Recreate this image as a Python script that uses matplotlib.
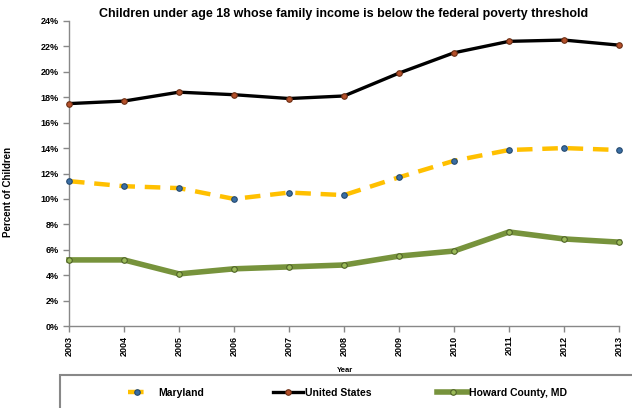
import matplotlib
matplotlib.use("Agg")
import matplotlib.pyplot as plt
from matplotlib.ticker import FuncFormatter, MultipleLocator
from matplotlib.patches import Rectangle

years = [2003, 2004, 2005, 2006, 2007, 2008, 2009, 2010, 2011, 2012, 2013]
maryland = [11.4, 11.0, 10.85, 10.0, 10.5, 10.3, 11.7, 13.0, 13.85, 14.0, 13.85]
united_states = [17.5, 17.7, 18.4, 18.2, 17.9, 18.1, 19.9, 21.5, 22.4, 22.5, 22.1]
howard = [5.2, 5.2, 4.1, 4.5, 4.65, 4.8, 5.5, 5.9, 7.4, 6.85, 6.6]

title = "Children under age 18 whose family income is below the federal poverty threshold"

plt.rcParams['font.family'] = ['Liberation Sans', 'DejaVu Sans']
plt.rcParams['font.weight'] = 'bold'

W, H = 632, 408
fig = plt.figure(figsize=(W/100, H/100), dpi=100)
ax = fig.add_axes([69/W, 1-326/H, (619-69)/W, (326-21)/H])

l_md, = ax.plot(years, maryland, color='#FFC000', lw=3.2, dashes=(3.5, 2.2),
                marker='o', ms=4, mfc='#3A6EA5', mec='#254A70', mew=0.8, label='Maryland', zorder=3)
l_us, = ax.plot(years, united_states, color='black', lw=2.4,
                marker='o', ms=4, mfc='#B5502A', mec='#6B2E14', mew=0.8, label='United States', zorder=3)
l_hc, = ax.plot(years, howard, color='#77933C', lw=4.0,
                marker='o', ms=4, mfc='#9BBB59', mec='#4F6228', mew=0.8, label='Howard County, MD', zorder=3)

ax.set_xlim(2003, 2013)
ax.set_ylim(0, 24)
ax.yaxis.set_major_locator(MultipleLocator(2))
ax.yaxis.set_major_formatter(FuncFormatter(lambda v, p: f"{int(round(v))}%"))
ax.set_xticks(years)
ax.set_xticklabels([str(y) for y in years], rotation=90, fontsize=6.5, fontweight='bold')
for lab in ax.get_yticklabels():
    lab.set_fontsize(6.5)
    lab.set_fontweight('bold')

for s in ['top', 'right']:
    ax.spines[s].set_visible(False)
for s in ['left', 'bottom']:
    ax.spines[s].set_color('#888888')
    ax.spines[s].set_linewidth(1.0)
ax.tick_params(axis='both', colors='#888888', length=4, width=1, labelcolor='black', direction='out')
ax.tick_params(axis='x', pad=3)
for l in ax.lines:
    l.set_clip_on(False)

ax.set_title(title, fontsize=9, fontweight='bold', pad=3)
ax.set_ylabel("Percent of Children", fontsize=7, fontweight='bold')
ax.yaxis.set_label_coords(-56/550, 1 - (192-21)/305)
fig.text(345/W, 1 - 370/H, "Year", fontsize=5.5, fontweight='bold', ha='center', va='center')

# legend frame (extends past the figure edge as in the reference)
fig.patches.append(Rectangle((60/W, -0.05), 0.95, (H-375)/H + 0.05,
                             transform=fig.transFigure, fill=False,
                             edgecolor='#888888', linewidth=1.5))
yc = 1 - 393/H
specs = [(l_md, 128, 1.8, 1.15), (l_us, 273, 2.9, 0.2), (l_hc, 437, 3.0, 0.1)]
for h, x0, hl, tp in specs:
    lg = fig.legend([h], [h.get_label()], loc='center left', bbox_to_anchor=(x0/W, yc),
                    frameon=False, fontsize=7.5, handlelength=hl, handletextpad=tp,
                    borderpad=0, borderaxespad=0)

fig.savefig("out.png", dpi=100)
